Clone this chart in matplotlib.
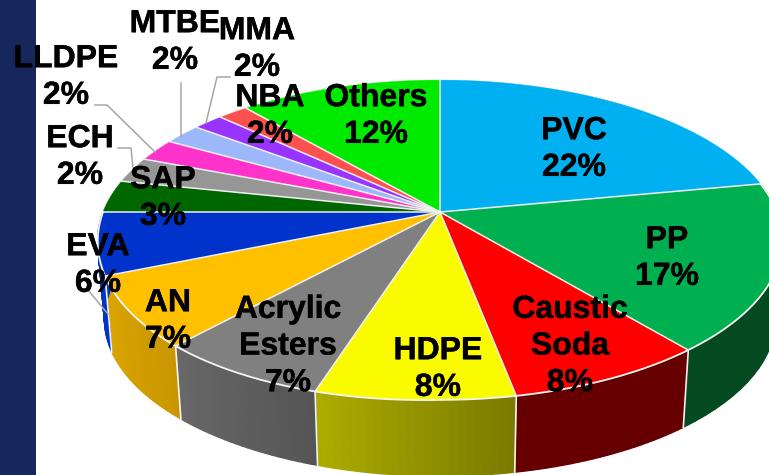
import numpy as np
import matplotlib
matplotlib.use('Agg')
import matplotlib.pyplot as plt
import matplotlib.patheffects as pe
from matplotlib.colors import to_rgb

# Chart data
labels = ['PVC', 'PP', 'Caustic\nSoda', 'HDPE', 'Acrylic\nEsters', 'AN', 'EVA', 'SAP',
          'ECH', 'LLDPE', 'MTBE', 'MMA', 'NBA', 'Others']
# printed percentages, and slice sizes as measured on the pie
printed = [22, 17, 8, 8, 7, 7, 6, 3, 2, 2, 2, 2, 2, 12]
shares = [22, 17, 8, 8, 7, 7, 6, 3.3, 2.6, 2.3, 2.1, 1.7, 1.7, 11.3]
colors = ['#00B0F0', '#00B050', '#FF0000', '#FBFB00', '#808080', '#FFC000', '#0033CC', '#006600',
          '#969696', '#FF33CC', '#9DB8FA', '#9933FF', '#FF5050', '#00EA00']
side_left = [None, '#044A20', '#660000', '#ACAC00', '#686868', '#DCA600', '#0033CC', None,
             None, None, None, None, None, None]
side_right = [None, '#044A20', '#660000', '#7A7A00', '#555555', '#C89600', '#0033CC', None,
              None, None, None, None, None, None]
label_x = [574, 667, 570, 438, 288, 168, 98, 163, 80, 66, 175, 257, 270, 376]
label_y = [149.5, 258.5, 346.5, 369.5, 346.5, 321.5, 265.5, 198.5, 157.5, 77.5, 42.5, 49.5, 116.5, 116.5]
leaders = [[(118, 148), (131, 148), (133, 168)],
           [(95, 105), (107, 105), (155, 152)],
           [(181, 83), (181, 137)],
           [(230, 77), (217, 77), (206, 123)],
           [(88, 290), (108, 314)]]


def disk(theta, cy, scale=1.0, sag=0.0):
    # perspective view of a flat circle, theta clockwise from the top
    u, v = np.sin(theta), np.cos(theta)
    d = 1 + 0.175 * v
    y = cy - scale * 155 * v / d + sag * np.clip(-u, 0, 1) * np.clip(-v, 0, 1)
    return 440 + scale * 337 * u / d, y


fig = plt.figure(figsize=(7.69, 4.75), dpi=100)
ax = fig.add_axes([0, 0, 1, 1])
ax.set_xlim(0, 769)
ax.set_ylim(475, 0)
ax.axis('off')

ax.fill_between([0, 36], 0, 475, color='#17275C', lw=0, zorder=1)

edges = 2 * np.pi * np.cumsum([0] + shares) / sum(shares)

# side walls
for i in range(len(shares)):
    if side_left[i] is None:
        continue
    t = np.linspace(edges[i], edges[i + 1], 25)
    x0, y0 = disk(t, 212, sag=9)
    x1, y1 = disk(t, 292, 0.98)
    # gradient runs left to right on screen, theta runs right to left here
    c_l, c_r = np.array(to_rgb(side_left[i])), np.array(to_rgb(side_right[i]))
    for j in range(len(t) - 1):
        f = 1 - (j + 0.5) / (len(t) - 1)
        c = c_l + (c_r - c_l) * f
        ax.fill([x0[j], x0[j + 1], x1[j + 1], x1[j]], [y0[j], y0[j + 1], y1[j + 1], y1[j]],
                facecolor=c, edgecolor=c, lw=1.0, zorder=2)
    ax.plot([x0[0], x1[0]], [y0[0], y1[0]], color='#F4F4F4', lw=1.2, zorder=3)

# top face
for i in range(len(shares)):
    t = np.linspace(edges[i], edges[i + 1], 80)
    x, y = disk(t, 212, sag=9)
    ax.fill(np.r_[440, x], np.r_[212, y], color=colors[i], lw=0.3, zorder=4)
for i in range(len(shares)):
    x, y = disk(edges[i], 212, sag=9)
    ax.plot([440, x], [212, y], color='#F0F0F0', lw=1.1, zorder=5)
t = np.linspace(edges[1], edges[7], 200)
ax.plot(*disk(t, 212, sag=9), color='#F4F4F4', lw=1.3, zorder=5)

# leader lines
for pts in leaders:
    xs, ys = zip(*pts)
    ax.plot(xs, ys, color='#A6A6A6', lw=1.1, zorder=6)

for name, pct, x, y in zip(labels, printed, label_x, label_y):
    ax.text(x, y, f'{name}\n{pct}%', ha='center', va='center', family='Liberation Sans',
            weight='bold', fontsize=23, linespacing=1.29, color='black', zorder=7,
            path_effects=[pe.withStroke(linewidth=0.3, foreground='black')])

fig.savefig('out.png', dpi=100)
